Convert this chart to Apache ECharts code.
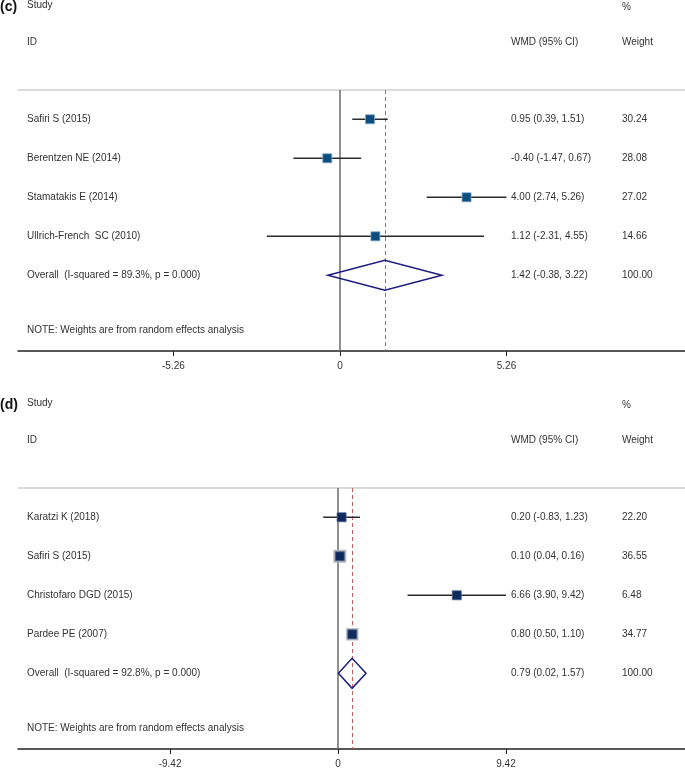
<!DOCTYPE html>
<html><head><meta charset="utf-8">
<script src="https://cdn.jsdelivr.net/npm/echarts@6/dist/echarts.min.js"></script>
<style>html,body{margin:0;padding:0;background:#fff}#c{width:685px;height:769px}</style>
</head><body><div id="c"></div><script>
// ---- Panel (c) data ----
const studiesC = ['Safiri S (2015)', 'Berentzen NE (2014)', 'Stamatakis E (2014)', 'Ullrich-French  SC (2010)'];
const estC = [0.95, -0.40, 4.00, 1.12];
const lowC = [0.39, -1.47, 2.74, -2.31];
const highC = [1.51, 0.67, 5.26, 4.55];
const weightC = ['30.24', '28.08', '27.02', '14.66'];
const overallC = [1.42, -0.38, 3.22];
const overallLabelC = 'Overall  (I-squared = 89.3%, p = 0.000)';
const ticksC = [-5.26, 0, 5.26];
const tickLabelsC = ['-5.26', '0', '5.26'];

// ---- Panel (d) data ----
const studiesD = ['Karatzi K (2018)', 'Safiri S (2015)', 'Christofaro DGD (2015)', 'Pardee PE (2007)'];
const estD = [0.20, 0.10, 6.66, 0.80];
const lowD = [-0.83, 0.04, 3.90, 0.50];
const highD = [1.23, 0.16, 9.42, 1.10];
const weightD = ['22.20', '36.55', '6.48', '34.77'];
const overallD = [0.79, 0.02, 1.57];
const overallLabelD = 'Overall  (I-squared = 92.8%, p = 0.000)';
const ticksD = [-9.42, 0, 9.42];
const tickLabelsD = ['-9.42', '0', '9.42'];

const noteText = 'NOTE: Weights are from random effects analysis';
const FONT = '10px "Liberation Sans", Arial, sans-serif';
const TXT = '#333';

function fmt(a, b, c) { return a.toFixed(2) + ' (' + b.toFixed(2) + ', ' + c.toFixed(2) + ')'; }

const panels = [
  { tag: '(c)', studies: studiesC, est: estC, low: lowC, high: highC, weight: weightC, overall: overallC,
    overallLabel: overallLabelC, ticks: ticksC, tickLabels: tickLabelsC,
    top: 90, xmin: -10.17, xmax: 10.90, offsetY: 0,
    markerColor: '#0b4d7d', markerEdge: '#7aa6cc', boxScale: 0.25 },
  { tag: '(d)', studies: studiesD, est: estD, low: lowD, high: highD, weight: weightD, overall: overallD,
    overallLabel: overallLabelD, ticks: ticksD, tickLabels: tickLabelsD,
    top: 488, xmin: -17.95, xmax: 19.46, offsetY: 398,
    markerColor: '#0d2a5c', markerEdge: '#4a6390', boxScale: 0.355 }
];

const grids = [], xAxes = [], yAxes = [], series = [], graphics = [];

panels.forEach((p, k) => {
  grids.push({ left: 18, right: 0, top: p.top, height: 261 });
  xAxes.push({ type: 'value', gridIndex: k, position: 'bottom', min: p.xmin, max: p.xmax,
    axisLine: { show: true, onZero: false, lineStyle: { color: '#222', width: 1.5 } },
    axisTick: { show: true, customValues: p.ticks, length: 5, lineStyle: { color: '#222', width: 1 } },
    axisLabel: { show: true, customValues: p.ticks, margin: 10, color: TXT, fontSize: 10,
      fontFamily: 'Liberation Sans, Arial, sans-serif',
      formatter: v => { const i = p.ticks.findIndex(t => Math.abs(t - v) < 1e-6); return i >= 0 ? p.tickLabels[i] : ''; } },
    splitLine: { show: false } });
  xAxes.push({ type: 'value', gridIndex: k, position: 'top', min: p.xmin, max: p.xmax,
    axisLine: { show: true, onZero: false, lineStyle: { color: '#cfcfcf', width: 1.5 } },
    axisTick: { show: false }, axisLabel: { show: false }, splitLine: { show: false } });
  yAxes.push({ type: 'value', gridIndex: k, inverse: true, min: -0.75, max: 5.94, show: false });

  const xb = 2 * k, yi = k;
  const rows = p.studies.map((s, i) => [p.est[i], p.low[i], p.high[i], i]);
  series.push({
    type: 'custom', xAxisIndex: xb, yAxisIndex: yi, clip: false, silent: true, z: 5,
    data: rows,
    renderItem: (params, api) => {
      const i = params.dataIndex;
      const row = api.value(3);
      const pE = api.coord([api.value(0), row]);
      const pL = api.coord([api.value(1), row]);
      const pH = api.coord([api.value(2), row]);
      const y = pE[1];
      const bs = p.boxScale * parseFloat(p.weight[i]);
      return { type: 'group', children: [
        { type: 'line', shape: { x1: pL[0], y1: y, x2: pH[0], y2: y }, style: { stroke: '#2b2b2b', lineWidth: 1.6 } },
        { type: 'rect', shape: { x: pE[0] - bs / 2, y: y - bs / 2, width: bs, height: bs }, style: { fill: '#b9b9b9' } },
        { type: 'rect', shape: { x: pE[0] - 4.5, y: y - 4.5, width: 9, height: 9 }, style: { fill: p.markerColor, stroke: p.markerEdge, lineWidth: 0.8 } },
        { type: 'text', style: { text: p.studies[i], x: 27, y: y, font: FONT, fill: TXT, textAlign: 'left', textVerticalAlign: 'middle' } },
        { type: 'text', style: { text: fmt(p.est[i], p.low[i], p.high[i]), x: 511, y: y, font: FONT, fill: TXT, textAlign: 'left', textVerticalAlign: 'middle' } },
        { type: 'text', style: { text: p.weight[i], x: 622, y: y, font: FONT, fill: TXT, textAlign: 'left', textVerticalAlign: 'middle' } }
      ] };
    }
  });
  series.push({
    type: 'custom', xAxisIndex: xb, yAxisIndex: yi, clip: false, silent: true, z: 6,
    data: [[p.overall[0], p.overall[1], p.overall[2], p.studies.length]],
    renderItem: (params, api) => {
      const row = api.value(3);
      const pE = api.coord([api.value(0), row]);
      const pL = api.coord([api.value(1), row]);
      const pH = api.coord([api.value(2), row]);
      const y = pE[1];
      return { type: 'group', children: [
        { type: 'polygon', shape: { points: [[pL[0], y], [pE[0], y - 15], [pH[0], y], [pE[0], y + 15]] },
          style: { fill: 'rgba(255,255,255,0)', stroke: '#1c1c80', lineWidth: 1.5 } },
        { type: 'text', style: { text: p.overallLabel, x: 27, y: y, font: FONT, fill: TXT, textAlign: 'left', textVerticalAlign: 'middle' } },
        { type: 'text', style: { text: fmt(p.overall[0], p.overall[1], p.overall[2]), x: 511, y: y, font: FONT, fill: TXT, textAlign: 'left', textVerticalAlign: 'middle' } },
        { type: 'text', style: { text: '100.00', x: 622, y: y, font: FONT, fill: TXT, textAlign: 'left', textVerticalAlign: 'middle' } }
      ] };
    },
    markLine: {
      silent: true, symbol: 'none', label: { show: false },
      data: [
        { xAxis: 0, lineStyle: { color: '#6b6b6b', width: 1.5, type: 'solid' } },
        { xAxis: p.overall[0], lineStyle: { color: '#c45f5f', width: 1, type: [4, 3] } }
      ]
    }
  });
  series.push({
    type: 'custom', xAxisIndex: xb, yAxisIndex: yi, clip: false, silent: true, z: 5,
    data: [[0, 5.41]],
    renderItem: (params, api) => {
      const pt = api.coord([0, api.value(1)]);
      return { type: 'text', style: { text: noteText, x: 27, y: pt[1], font: FONT, fill: TXT, textAlign: 'left', textVerticalAlign: 'middle' } };
    }
  });

  const oy = p.offsetY;
  graphics.push(
    { type: 'text', left: 0, top: oy, style: { text: p.tag, font: 'bold 14px "Liberation Sans", Arial, sans-serif', fill: '#111' } },
    { type: 'text', left: 27, top: oy, style: { text: 'Study', font: FONT, fill: TXT } },
    { type: 'text', left: 622, top: oy + 2, style: { text: '%', font: FONT, fill: TXT } },
    { type: 'text', left: 27, top: oy + 37, style: { text: 'ID', font: FONT, fill: TXT } },
    { type: 'text', left: 511, top: oy + 37, style: { text: 'WMD (95% CI)', font: FONT, fill: TXT } },
    { type: 'text', left: 622, top: oy + 37, style: { text: 'Weight', font: FONT, fill: TXT } }
  );
});

const chart = echarts.init(document.getElementById('c'), null, { renderer: 'canvas' });
chart.setOption({
  animation: false,
  backgroundColor: '#fff',
  grid: grids, xAxis: xAxes, yAxis: yAxes, series: series, graphic: graphics
});
</script></body></html>
